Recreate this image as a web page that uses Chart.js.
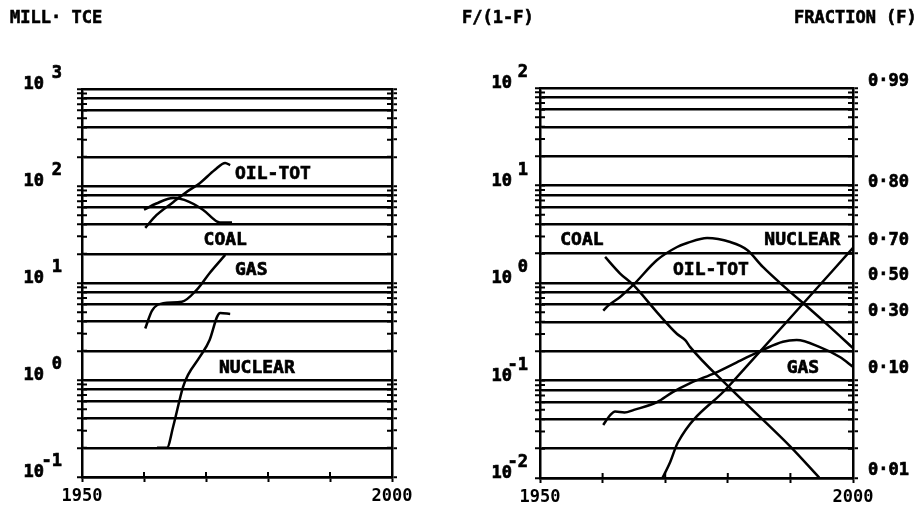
<!DOCTYPE html>
<html lang="en">
<head>
  <meta charset="UTF-8">
  <title>Energy substitution</title>
  <script src="https://cdn.jsdelivr.net/npm/chart.js"></script>
  <style>
    body { margin: 0; background: #fff; }
    .wrap { position: relative; width: 924px; height: 512px; }
    .panel { position: absolute; top: 0; width: 462px; height: 512px; }
    .hdr { position: absolute; top: 7px; font: bold 17px "DejaVu Sans Mono", monospace; color: #000; -webkit-text-stroke: 0.6px #000; }
  </style>
</head>
<body>
  <div class="wrap">
    <div class="panel" style="left:0"><canvas id="absChart" width="462" height="512"></canvas></div>
    <div class="panel" style="left:462px"><canvas id="fracChart" width="462" height="512"></canvas></div>
    <div class="hdr" style="left:10px">MILL· TCE</div>
    <div class="hdr" style="left:462px">F/(1-F)</div>
    <div class="hdr" style="left:794px">FRACTION (F)</div>
  </div>

  <script>
    // consumption, million tonnes coal equivalent
    const absOilYears = [1960.2, 1962, 1964.7, 1967, 1969, 1971.4, 1973.1, 1973.9];
    const absOilValues = [37, 50, 68, 88, 107, 146, 173, 164];
    const absCoalYears = [1960, 1962, 1964.7, 1966.5, 1969.5, 1971.8, 1972.7, 1974.2];
    const absCoalValues = [57, 66, 75, 72, 57, 43, 42, 42];
    const absGasYears = [1960.2, 1961.3, 1963.1, 1966.1, 1968.5, 1970.6, 1973.1];
    const absGasValues = [3.4, 5.2, 6.2, 6.4, 8.5, 12.7, 19.5];
    const absNucYears = [1962.1, 1963.7, 1964.7, 1966.3, 1967.1, 1969, 1970.6, 1971.8, 1972.3, 1973.9];
    const absNucValues = [0.2, 0.2, 0.33, 0.85, 1.13, 1.73, 2.6, 4.5, 4.9, 4.8];

    // market share as F/(1-F)
    const fracCoalYears = [1960.4, 1962.8, 1964.9, 1968.7, 1971.9, 1973.2, 1974, 1980, 1990, 1994.6];
    const fracCoalValues = [1.85, 1.25, 0.955, 0.5, 0.3, 0.26, 0.22, 0.088, 0.021, 0.0101];
    const fracOilYears = [1960.1, 1960.8, 1962.8, 1964.9, 1968.7, 1971.9, 1973.5, 1976.7, 1980.4, 1983.1, 1985.6, 1989.5, 1992.7, 1996.3, 2000];
    const fracOilValues = [0.52, 0.58, 0.72, 0.955, 1.72, 2.34, 2.57, 2.9, 2.63, 2.18, 1.46, 0.86, 0.57, 0.355, 0.215];
    const fracGasYears = [1960.1, 1961.2, 1962, 1963.5, 1965, 1968.7, 1971.2, 1974, 1978, 1982, 1985.6, 1988.8, 1991, 1994.7, 1997.9, 2000];
    const fracGasValues = [0.035, 0.044, 0.048, 0.047, 0.05, 0.06, 0.076, 0.094, 0.12, 0.16, 0.206, 0.25, 0.26, 0.22, 0.174, 0.138];
    const fracNucYears = [1969.5, 1970.8, 1972, 1980, 1990, 2000];
    const fracNucValues = [0.0098, 0.0146, 0.023, 0.0853, 0.44, 2.29];

    // right-hand fraction scale
    const fractionTicks = [0.99, 0.90, 0.70, 0.50, 0.30, 0.10, 0.01];
    const fractionText = ['0·99', '0·80', '0·70', '0·50', '0·30', '0·10', '0·01'];

    const FONT = 'bold 17px "DejaVu Sans Mono", monospace';
    const LABEL_FONT = 'bold 18px "DejaVu Sans Mono", monospace';
    const GRID_STEPS = [1, 2, 4, 6, 8];

    function pairs(xs, ys) {
      return xs.map((x, i) => ({ x: x, y: ys[i] }));
    }

    function series(xs, ys) {
      return {
        data: pairs(xs, ys),
        borderColor: '#000',
        borderWidth: 2.5,
        pointRadius: 0,
        cubicInterpolationMode: 'monotone',
        fill: false
      };
    }

    // every 1..9 x 10^e from lo to hi, flagged where a full grid line goes
    function logTicks(lo, hi) {
      const out = [];
      for (let e = lo; e < hi; e++) {
        for (let k = 1; k <= 9; k++) {
          out.push({ value: k * Math.pow(10, e), line: GRID_STEPS.includes(k) });
        }
      }
      out.push({ value: Math.pow(10, hi), line: true });
      return out;
    }

    function yAxis(lo, hi, pos, width, onArea) {
      return {
        type: 'logarithmic',
        position: pos,
        min: Math.pow(10, lo),
        max: Math.pow(10, hi),
        afterBuildTicks: s => { s.ticks = logTicks(lo, hi); },
        afterFit: s => { s.width = width; },
        ticks: { display: false, autoSkip: false },
        border: { display: true, color: '#000', width: 2.5 },
        grid: {
          drawOnChartArea: onArea,
          color: c => (c.tick && c.tick.line) ? '#000' : 'rgba(0,0,0,0)',
          lineWidth: 2.5,
          tickColor: '#000',
          tickWidth: 2,
          tickLength: 5
        }
      };
    }

    function xAxis(height) {
      return {
        type: 'linear',
        min: 1950,
        max: 2000,
        afterFit: s => { s.height = height; },
        ticks: {
          stepSize: 10,
          autoSkip: false,
          maxRotation: 0,
          padding: 4,
          color: '#000',
          font: { family: '"DejaVu Sans Mono", monospace', size: 17, weight: 'bold' },
          callback: v => (v === 1950 || v === 2000) ? String(v) : ''
        },
        border: { display: true, color: '#000', width: 2.5 },
        grid: { drawOnChartArea: false, tickColor: '#000', tickWidth: 2, tickLength: 5 }
      };
    }

    // heavy pen look: fill then trace the outline
    function penText(ctx, s, x, y) {
      ctx.fillText(s, x, y);
      ctx.strokeText(s, x, y);
    }

    // plotter-style extras: inner tick halves, 10^n labels, curve names, fraction scale
    const plotterText = {
      id: 'plotterText',
      afterDraw(chart, args, o) {
        const ctx = chart.ctx;
        const { left, right, bottom } = chart.chartArea;
        const xs = chart.scales.x, ys = chart.scales.y, ys2 = chart.scales.y2;
        ctx.save();
        ctx.strokeStyle = '#000';
        ctx.lineWidth = 2;
        ctx.beginPath();
        ys.ticks.forEach(t => {
          const py = ys.getPixelForValue(t.value);
          ctx.moveTo(left, py); ctx.lineTo(left + 5, py);
          ctx.moveTo(right - 5, py); ctx.lineTo(right, py);
        });
        xs.ticks.forEach(t => {
          const px = xs.getPixelForValue(t.value);
          ctx.moveTo(px, bottom); ctx.lineTo(px, bottom - 5);
        });
        ctx.stroke();

        ctx.fillStyle = '#000';
        ctx.lineWidth = 0.7;
        ctx.font = FONT;
        ctx.textBaseline = 'middle';
        ctx.textAlign = 'right';
        o.exponents.forEach(e => {
          const py = ys.getPixelForValue(Math.pow(10, e));
          penText(ctx, '10', left - o.baseGap, py - 4);
          penText(ctx, String(e), left - o.expGap, py - 15);
        });

        ctx.font = LABEL_FONT;
        ctx.textAlign = 'center';
        o.names.forEach(n => {
          penText(ctx, n.text, xs.getPixelForValue(n.x), ys.getPixelForValue(n.y));
        });

        if (o.fractions) {
          ctx.font = FONT;
          ctx.textAlign = 'left';
          fractionTicks.forEach((f, i) => {
            const py = ys2.getPixelForValue(f / (1 - f));
            penText(ctx, fractionText[i], right + 15, py - 7);
          });
        }
        ctx.restore();
      }
    };

    function makeChart(id, datasets, lo, hi, box, extra) {
      return new Chart(document.getElementById(id), {
        type: 'line',
        data: { datasets: datasets },
        options: {
          responsive: false,
          animation: false,
          layout: { padding: { top: box.top, left: 0, right: 0, bottom: 0 } },
          plugins: {
            legend: { display: false },
            tooltip: { enabled: false },
            plotterText: extra
          },
          scales: {
            x: xAxis(box.xh),
            y: yAxis(lo, hi, 'left', box.yl, true),
            y2: yAxis(lo, hi, 'right', box.yr, false)
          }
        },
        plugins: [plotterText]
      });
    }

    makeChart('absChart', [
      series(absOilYears, absOilValues),
      series(absCoalYears, absCoalValues),
      series(absGasYears, absGasValues),
      series(absNucYears, absNucValues)
    ], -1, 3, { top: 89, xh: 35, yl: 82, yr: 70 }, {
      exponents: [-1, 0, 1, 2, 3],
      baseGap: 38,
      expGap: 20,
      names: [
        { text: 'OIL-TOT', x: 1980.8, y: 133 },
        { text: 'COAL', x: 1973.1, y: 27.7 },
        { text: 'GAS', x: 1977.3, y: 13.6 },
        { text: 'NUCLEAR', x: 1978.2, y: 1.33 }
      ]
    });

    makeChart('fracChart', [
      series(fracCoalYears, fracCoalValues),
      series(fracOilYears, fracOilValues),
      series(fracGasYears, fracGasValues),
      series(fracNucYears, fracNucValues)
    ], -2, 2, { top: 88, xh: 34, yl: 78, yr: 71 }, {
      exponents: [-2, -1, 0, 1, 2],
      baseGap: 28,
      expGap: 12,
      fractions: true,
      names: [
        { text: 'COAL', x: 1956.7, y: 2.76 },
        { text: 'NUCLEAR', x: 1991.9, y: 2.76 },
        { text: 'OIL-TOT', x: 1977.3, y: 1.36 },
        { text: 'GAS', x: 1992.0, y: 0.134 }
      ]
    });
  </script>
</body>
</html>
